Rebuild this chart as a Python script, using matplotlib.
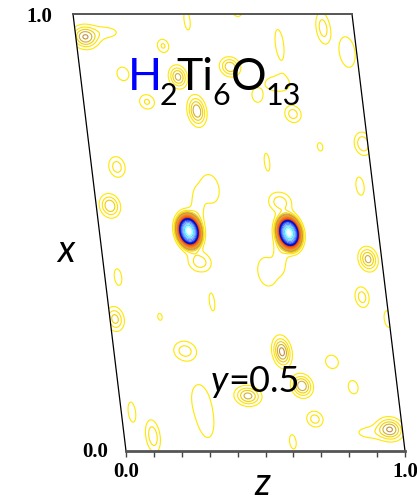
import numpy as np
import matplotlib.pyplot as plt
from matplotlib.patches import Polygon

# cell shear: horizontal shift of the top edge per unit x (in units of z)
shear = 0.19

# density peaks: fractional z, x, height, width along z, width along x
pk_z = [0.033, 0.110, 0.309, 0.406, 0.590, 0.890, 0.966, 0.727, 0.700, 0.540,
        0.349, 0.153, 0.227, 0.402, 0.624, 0.745, 0.828, 0.983, 0.091, 0.631,
        0.049, 0.415, 0.660, 0.954, 0.321, 0.679, 0.360, 0.640, 0.347, 0.583,
        0.951, 0.047, 0.913, 0.373, 0.180, 0.018, 0.996, 0.255, 0.602, 0.777,
        0.659, 0.461, 0.842, 0.288, 0.300, 0.691, 0.956, 0.880, 0.103, 0.038,
        0.602, 0.321, 0.679]
pk_x = [0.947, 0.958, 0.927, 0.985, 1.005, 0.968, 0.913, 0.930, 0.840, 0.879,
        0.856, 0.863, 0.799, 0.778, 0.812, 0.771, 0.696, 0.703, 0.650, 0.661,
        0.561, 0.600, 0.570, 0.606, 0.503, 0.499, 0.555, 0.450, 0.432, 0.410,
        0.439, 0.398, 0.352, 0.341, 0.307, 0.302, 0.302, 0.229, 0.227, 0.204,
        0.149, 0.126, 0.146, 0.119, 0.060, 0.073, 0.050, 0.042, 0.034, 0.089,
        0.021, 0.503, 0.499]
pk_h = [0.050, 0.014, 0.022, 0.014, 0.014, 0.026, 0.016, 0.014, 0.014, 0.040,
        0.045, 0.020, 0.022, 0.050, 0.017, 0.026, 0.013, 0.030, 0.026, 0.013,
        0.040, 0.015, 0.026, 0.015, 1.000, 1.000, 0.012, 0.012, 0.026, 0.015,
        0.045, 0.014, 0.026, 0.013, 0.012, 0.035, 0.014, 0.026, 0.055, 0.018,
        0.050, 0.045, 0.018, 0.013, 0.012, 0.026, 0.050, 0.014, 0.028, 0.014,
        0.015, 0.035, 0.035]
pk_wz = [0.029, 0.045, 0.016, 0.013, 0.020, 0.018, 0.029, 0.018, 0.050, 0.023,
         0.020, 0.018, 0.021, 0.020, 0.016, 0.021, 0.013, 0.021, 0.021, 0.013,
         0.023, 0.036, 0.029, 0.016, 0.018, 0.018, 0.018, 0.018, 0.029, 0.036,
         0.021, 0.016, 0.018, 0.013, 0.013, 0.021, 0.016, 0.029, 0.020, 0.021,
         0.023, 0.029, 0.016, 0.036, 0.026, 0.021, 0.029, 0.045, 0.018, 0.016,
         0.013, 0.028, 0.028]
pk_wx = [0.016, 0.013, 0.012, 0.026, 0.013, 0.026, 0.036, 0.042, 0.020, 0.014,
         0.016, 0.013, 0.013, 0.021, 0.013, 0.014, 0.013, 0.018, 0.017, 0.028,
         0.017, 0.036, 0.016, 0.023, 0.016, 0.016, 0.036, 0.036, 0.016, 0.036,
         0.017, 0.023, 0.017, 0.028, 0.013, 0.018, 0.023, 0.016, 0.021, 0.014,
         0.016, 0.014, 0.014, 0.042, 0.036, 0.013, 0.016, 0.013, 0.026, 0.028,
         0.018, 0.026, 0.026]

levels = [0.01, 0.02, 0.03, 0.04, 0.05, 0.06, 0.07, 0.08, 0.09, 0.10, 0.12, 0.14,
          0.16, 0.18, 0.20, 0.22, 0.25, 0.32, 0.40, 0.50, 0.60, 0.72, 0.85]
level_colors = ['#ffe800', '#ffe000', '#f0d000', '#d0b030', '#c09040', '#e8a040',
                '#f0a030', '#f09828', '#f08c20', '#f08020', '#f07018', '#f06018',
                '#f05010', '#e84010', '#e03010', '#c02040', '#0010c0', '#2040f0',
                '#4070ff', '#6090ff', '#80c0ff', '#40e0ff', '#80ffff']
level_lw = [1.6 if c == '#0010c0' else 0.8 for c in level_colors]

zf = np.linspace(-0.03, 1.03, 500)
xf = np.linspace(-0.03, 1.03, 500)
zz, xx = np.meshgrid(zf, xf)
rho = np.zeros_like(zz)
for z0, x0, h, wz, wx in zip(pk_z, pk_x, pk_h, pk_wz, pk_wx):
    rho += h*np.exp(-0.5*((zz-z0)/wz)**2 - 0.5*((xx-x0)/wx)**2)

# fractional -> drawing coordinates
X = zz - shear*xx
Y = xx

fig = plt.figure(figsize=(4.17, 5.02), dpi=100)
ax = fig.add_axes([73/417, 50/502, 332/417, 437/502])
ax.set_xlim(-shear, 1.0)
ax.set_ylim(0, 1)

cell = Polygon([(0, 0), (1, 0), (1-shear, 1), (-shear, 1)], closed=True,
               fill=False, edgecolor='none', transform=ax.transData)
ax.add_patch(cell)

cs = ax.contour(X, Y, rho, levels=levels, colors=level_colors, linewidths=level_lw)
cs.set_clip_path(cell)

# cell edges
ax.plot([0, -shear], [0, 1], color='black', lw=0.9, clip_on=False)
ax.plot([1, 1-shear], [0, 1], color='black', lw=0.9, clip_on=False)
ax.plot([-shear, 1-shear], [1, 1], color='#555555', lw=1.4, clip_on=False)

for s in ['top', 'left', 'right']:
    ax.spines[s].set_visible(False)
ax.spines['bottom'].set_bounds(0, 1)
ax.spines['bottom'].set_linewidth(2)
ax.spines['bottom'].set_color('#555555')
ax.set_yticks([])
ax.set_xticks(np.arange(0, 1.01, 0.1))
ax.set_xticklabels(['0.0'] + ['']*9 + ['1.0'])
ax.tick_params(axis='x', direction='out', length=4, width=1, color='#444444', pad=3)
for t in ax.get_xticklabels():
    t.set_fontfamily('Liberation Serif')
    t.set_fontweight('bold')
    t.set_fontsize(15)
ax.patch.set_alpha(0)

serif = dict(family='Liberation Serif', weight='bold', fontsize=15)
fig.text(26/417, 1-22/502, '1.0', ha='left', va='baseline', **serif)
fig.text(108/417, 1-457/502, '0.0', ha='right', va='baseline', **serif)

sans = 'Lato'
fig.text(128/417, 1-90/502, 'H', color='#0000ff', family=sans, fontsize=32, va='baseline')
fig.text(160/417, 1-105/502, '2', family=sans, fontsize=22, va='baseline')
fig.text(176/417, 1-90/502, 'Ti', family=sans, fontsize=32, va='baseline')
fig.text(212/417, 1-105/502, '6', family=sans, fontsize=22, va='baseline')
fig.text(231/417, 1-90/502, 'O', family=sans, fontsize=32, va='baseline')
fig.text(266/417, 1-105/502, '13', family=sans, fontsize=22, va='baseline')

fig.text(211/417, 1-392/502, 'y', family=sans, style='italic', fontsize=26, va='baseline')
fig.text(228/417, 1-392/502, '=0.5', family=sans, fontsize=26, va='baseline')

fig.text(57/417, 1-262/502, 'x', family=sans, style='italic', fontsize=27, va='baseline')
fig.text(254/417, 1-495/502, 'z', family=sans, style='italic', fontsize=27, va='baseline')

fig.savefig('out.png', dpi=100)
